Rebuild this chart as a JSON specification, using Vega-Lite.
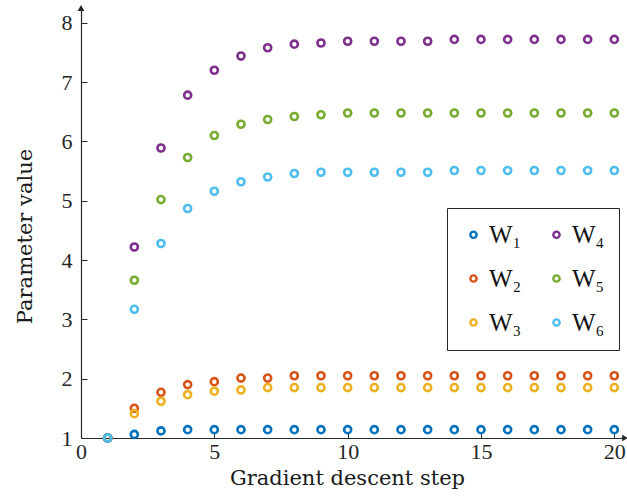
{
  "$schema": "https://vega.github.io/schema/vega-lite/v6.json",
  "autosize": "none",
  "width": 544,
  "height": 430,
  "padding": {"left": 81, "top": 8, "right": 2, "bottom": 59},
  "background": "white",
  "config": {
    "view": {"stroke": null},
    "font": "Liberation Serif",
    "axis": {"grid": false, "domainColor": "#262626", "tickColor": "#262626", "labelColor": "#262626", "titleColor": "#1a1a1a",
      "labelFont": "Liberation Serif", "titleFont": "DejaVu Serif", "labelFontSize": 22, "titleFontSize": 21, "titleFontWeight": "normal",
      "tickSize": -6, "domainWidth": 1.2, "tickWidth": 1}
  },
  "data": {"values": [
    {"step": 1, "W1": 1, "W2": 1, "W3": 1, "W4": 1, "W5": 1, "W6": 1},
    {"step": 2, "W1": 1.06, "W2": 1.50, "W3": 1.41, "W4": 4.22, "W5": 3.66, "W6": 3.17},
    {"step": 3, "W1": 1.12, "W2": 1.77, "W3": 1.62, "W4": 5.89, "W5": 5.02, "W6": 4.28},
    {"step": 4, "W1": 1.14, "W2": 1.90, "W3": 1.73, "W4": 6.78, "W5": 5.73, "W6": 4.87},
    {"step": 5, "W1": 1.14, "W2": 1.95, "W3": 1.79, "W4": 7.20, "W5": 6.10, "W6": 5.16},
    {"step": 6, "W1": 1.14, "W2": 2.01, "W3": 1.81, "W4": 7.44, "W5": 6.29, "W6": 5.32},
    {"step": 7, "W1": 1.14, "W2": 2.01, "W3": 1.85, "W4": 7.58, "W5": 6.37, "W6": 5.40},
    {"step": 8, "W1": 1.14, "W2": 2.05, "W3": 1.85, "W4": 7.64, "W5": 6.42, "W6": 5.46},
    {"step": 9, "W1": 1.14, "W2": 2.05, "W3": 1.85, "W4": 7.66, "W5": 6.45, "W6": 5.48},
    {"step": 10, "W1": 1.14, "W2": 2.05, "W3": 1.85, "W4": 7.69, "W5": 6.48, "W6": 5.48},
    {"step": 11, "W1": 1.14, "W2": 2.05, "W3": 1.85, "W4": 7.69, "W5": 6.48, "W6": 5.48},
    {"step": 12, "W1": 1.14, "W2": 2.05, "W3": 1.85, "W4": 7.69, "W5": 6.48, "W6": 5.48},
    {"step": 13, "W1": 1.14, "W2": 2.05, "W3": 1.85, "W4": 7.69, "W5": 6.48, "W6": 5.48},
    {"step": 14, "W1": 1.14, "W2": 2.05, "W3": 1.85, "W4": 7.72, "W5": 6.48, "W6": 5.51},
    {"step": 15, "W1": 1.14, "W2": 2.05, "W3": 1.85, "W4": 7.72, "W5": 6.48, "W6": 5.51},
    {"step": 16, "W1": 1.14, "W2": 2.05, "W3": 1.85, "W4": 7.72, "W5": 6.48, "W6": 5.51},
    {"step": 17, "W1": 1.14, "W2": 2.05, "W3": 1.85, "W4": 7.72, "W5": 6.48, "W6": 5.51},
    {"step": 18, "W1": 1.14, "W2": 2.05, "W3": 1.85, "W4": 7.72, "W5": 6.48, "W6": 5.51},
    {"step": 19, "W1": 1.14, "W2": 2.05, "W3": 1.85, "W4": 7.72, "W5": 6.48, "W6": 5.51},
    {"step": 20, "W1": 1.14, "W2": 2.05, "W3": 1.85, "W4": 7.72, "W5": 6.48, "W6": 5.51}
  ]},
  "layer": [
    {
      "transform": [{"fold": ["W1", "W2", "W3", "W4", "W5", "W6"], "as": ["series", "value"]}],
      "mark": {"type": "point", "filled": false, "strokeWidth": 2.6, "size": 50, "opacity": 1, "clip": false},
      "encoding": {
        "x": {"field": "step", "type": "quantitative", "scale": {"domain": [0, 20.4], "nice": false, "zero": false},
          "axis": {"values": [0, 5, 10, 15, 20], "format": "d", "title": "Gradient descent step", "labelPadding": 9, "titlePadding": 5, "titleX": 266, "labelFlush": false}},
        "y": {"field": "value", "type": "quantitative", "scale": {"domain": [1, 8.25], "nice": false, "zero": false},
          "axis": {"values": [1, 2, 3, 4, 5, 6, 7, 8], "format": "d", "title": "Parameter value", "labelPadding": 15, "titlePadding": 26, "titleY": 228, "labelFlush": false}},
        "color": {"field": "series", "type": "nominal",
          "scale": {"domain": ["W1", "W2", "W3", "W4", "W5", "W6"], "range": ["#0072BD", "#D95319", "#EDB120", "#7E2F8E", "#77AC30", "#4DBEEE"]},
          "legend": {"orient": "none", "legendX": 366, "legendY": 200, "columns": 2, "title": null,
            "strokeColor": "#262626", "fillColor": "white", "padding": 14,
            "rowPadding": 18, "columnPadding": 22,
            "symbolType": "circle", "symbolSize": 40, "symbolStrokeWidth": 2.4, "symbolFillColor": "white",
            "labelFont": "Liberation Serif", "labelFontSize": 25, "labelColor": "#111", "labelOffset": 3,
            "labelExpr": "'W' + ['₁','₂','₃','₄','₅','₆'][toNumber(substring(datum.label,1))-1]"}}
      }
    },
    {
      "data": {"values": [{"x": 0, "y": 8.25, "s": "triangle-up"}, {"x": 20.4, "y": 1, "s": "triangle-right"}]},
      "mark": {"type": "point", "filled": true, "color": "#262626", "size": 45, "clip": false, "opacity": 1},
      "encoding": {
        "x": {"field": "x", "type": "quantitative"},
        "y": {"field": "y", "type": "quantitative"},
        "shape": {"field": "s", "type": "nominal", "scale": null}
      }
    }
  ]
}
